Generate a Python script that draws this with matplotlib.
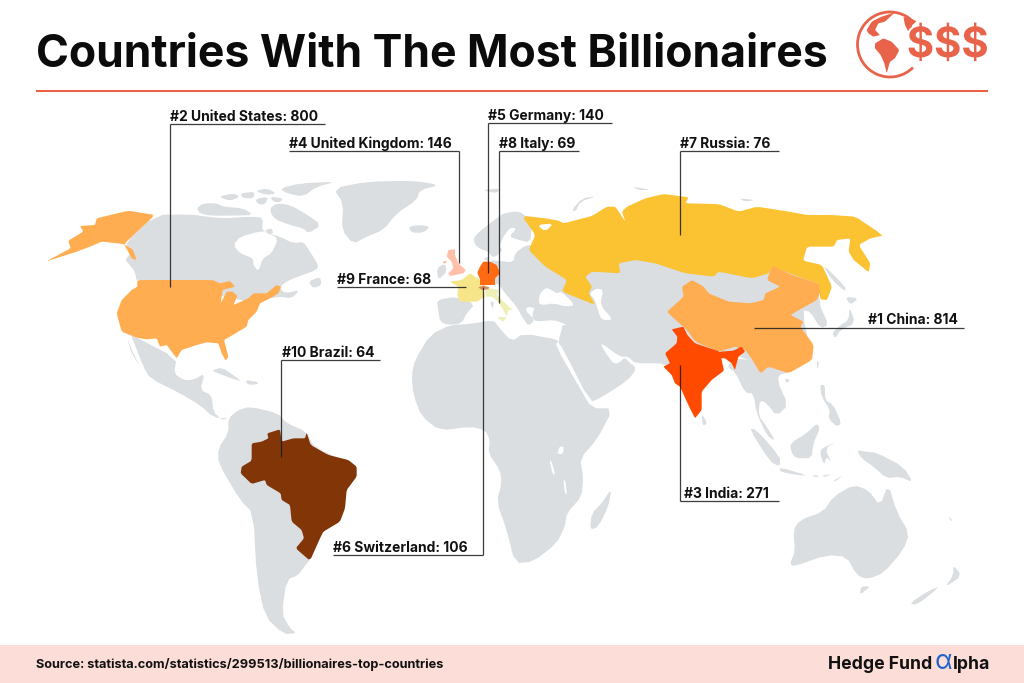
import matplotlib
matplotlib.use("Agg")
import matplotlib.pyplot as plt
import matplotlib.patheffects as pe
from matplotlib.patches import Polygon, Arc

# ---------- data ----------
ranks = [1, 2, 3, 4, 5, 6, 7, 8, 9, 10]
countries = ["China", "United States", "India", "United Kingdom", "Germany",
             "Switzerland", "Russia", "Italy", "France", "Brazil"]
billionaires = [814, 800, 271, 146, 140, 106, 76, 69, 68, 64]
title = "Countries With The Most Billionaires"
source = "Source: statista.com/statistics/299513/billionaires-top-countries"

# label anchors: text x, underline y, underline x0, x1, leader end (x, y)
label_x = [867.7, 170, 684, 289, 488, 333, 680, 499, 337, 282]
rule_y = [327.7, 124.3, 501, 151, 123, 555, 151, 151, 287, 360]
rule_x0 = [753.7, 170, 680, 289, 488, 333, 680, 499, 337, 281]
rule_x1 = [963.7, 325, 779, 459, 612, 483, 779, 579, 465.7, 380]
leader_x = [None, 170, 680, 459, 488, 483, 680, 499, None, 281]
leader_y = [None, 286.7, 365, 263, 272.7, 286.7, 235, 303, None, 456.7]

GREY = "#DADEE1"
INK = "#1A1A1A"
ORANGE = "#E8634A"
colors = {"China": "#FFAD50", "United States": "#FFAD50", "India": "#FF4A00",
          "United Kingdom": "#FFBFA8", "Germany": "#FF6A13", "Switzerland": "#D98E60",
          "Russia": "#FBC232", "Italy": "#EEF0B5", "France": "#F7E58A", "Brazil": "#823506"}

# ---------- traced outlines (each list: local trace units, with its own origin) ----------
O1, O2, O3, O4, O5 = (0, 90), (512, 90), (150, 330), (620, 330), (420, 230)
OA, OB, OC = (190, 175), (460, 205), (600, 300)

usa = [(412,570),(638,570),(660,580),(690,573),(705,590),(668,600),(662,640),(680,605),(698,605),(712,618),(700,645),(745,625),(760,610),(800,610),(830,585),(843,590),(835,610),(810,625),(780,640),(770,665),(745,690),(740,710),(690,740),(672,750),(685,800),(677,812),(665,790),(655,760),(620,757),(590,765),(545,780),(530,805),(515,785),(500,765),(480,770),(470,745),(440,748),(410,743),(365,725),(350,670),(365,630),(395,600),(412,590)]
alaska = [(465,375),(385,362),(290,385),(285,405),(240,408),(250,425),(205,452),(212,475),(137,515),(230,485),(270,470),(305,455),(370,462),(398,478),(410,510),(395,505),(372,462)]
canada = [(-105,120),(0,118),(50,125),(100,130),(180,125),(220,128),(215,170),(270,185),(310,205),(340,200),(360,230),(385,270),(380,285),(310,310),(280,325),(270,340),(285,355),(330,345),(305,370),(270,365),(240,370),(150,380),(0,330),(-160,320),(-165,290),(-185,265),(-195,255),(-170,225),(-198,207)]
hudson = [(130,210),(150,185),(215,168),(235,175),(265,190),(245,235),(218,250),(205,290),(190,270),(190,250),(150,235)]
gulf_lawrence = [(280,335),(375,295),(350,322),(310,320),(292,348)]
newfoundland = [(355,320),(390,305),(395,330),(370,340)]
arctic = [
    [(20,100),(40,85),(80,85),(100,95),(160,100),(190,120),(130,122),(60,122),(30,115)],
    [(85,65),(130,55),(150,65),(120,78)],
    [(150,55),(195,50),(190,70),(160,70)],
    [(195,72),(235,65),(225,88),(205,88)],
    [(240,65),(280,70),(270,82),(250,80)],
    [(240,100),(260,85),(300,90),(345,115),(395,150),(355,175),(340,160),(300,150),(260,135),(245,120)],
    [(270,40),(330,25),(440,20),(380,35),(340,65),(290,55)],
    [(195,48),(230,40),(260,55),(230,60)],
    [(225,165),(245,160),(250,175),(235,178)],
]
greenland = [(1320,285),(1240,272),(1100,275),(1000,295),(1030,340),(1025,420),(1060,462),(1100,440),(1150,420),(1190,370),(1250,330),(1260,300)]
iceland = [(1225,410),(1260,405),(1290,410),(1270,428),(1235,428)]
svalbard = [(1445,300),(1500,295),(1490,310)]
mexico = [(-55,15),(80,85),(72,130),(100,150),(130,150),(165,130),(150,180),(185,195),(190,245),(215,270),(235,265),(190,262),(150,225),(90,190),(0,145),(-20,110),(-55,20)]
caribbean = [
    [(-70,20),(-50,70),(-30,110),(-55,70)],
    [(185,122),(215,112),(250,135),(275,155),(245,145),(205,130)],
    [(285,150),(320,155),(325,162),(295,165)],
]
south_america = [(235,265),(265,240),(300,230),(385,250),(410,280),(470,305),(490,350),(600,400),(500,620),(510,620),(480,690),(470,700),(445,735),(410,750),(395,850),(420,895),(440,910),(400,912),(345,860),(320,740),(310,550),(270,510),(205,400),(205,355),(235,310)]
brazil = [(305,340),(335,335),(355,325),(352,310),(390,298),(395,335),(430,325),(465,325),(470,308),(482,345),(535,375),(595,390),(620,410),(620,440),(590,480),(585,535),(570,575),(520,605),(510,625),(480,692),(437,655),(462,625),(455,600),(425,575),(420,525),(395,510),(392,490),(350,465),(345,450),(305,462),(272,430),(275,410),(305,392)]
africa = [(785,135),(790,195),(815,260),(870,302),(960,290),(1005,300),(1020,330),(1015,370),(1050,420),(1055,460),(1040,515),(1070,600),(1095,700),(1150,695),(1220,640),(1245,590),(1250,550),(1295,500),(1300,440),(1290,385),(1340,330),(1390,235),(1325,235),(1290,175),(1215,45),(1230,30),(1120,10),(1085,35),(1045,-10),(1030,-30),(960,-18),(900,-15),(840,15),(795,90)]
madagascar = [(1385,475),(1375,530),(1345,590),(1320,600),(1325,550),(1355,520)]
african_lakes = [
    [(1222,372),(1228,350),(1242,350),(1238,372)],
    [(1198,390),(1205,395),(1216,435),(1208,432)],
    [(1240,450),(1246,452),(1251,495),(1245,490)],
]
asia = [(20,480),(50,470),(300,430),(900,500),(925,640),(925,650),(950,705),(925,715),(895,665),(870,660),(900,810),(800,860),(760,850),(700,800),(620,800),(500,830),(454,825),(449,820),(369,820),(349,800),(324,800),(269,760),(155,700),(125,690),(70,695),(60,680),(70,640),(150,600)]
europe_east = [(90,165),(120,168),(160,172),(165,145),(195,122),(215,120),(300,200),(350,280),(300,300),(240,300),(235,295),(225,310),(205,305),(195,315),(225,345),(205,362),(192,345),(170,305),(135,265),(115,235),(105,240),(85,200)]
scandinavia = [(40,100),(60,78),(110,40),(130,25),(175,18),(200,35),(215,70),(210,113),(170,103),(148,95),(170,70),(150,68),(130,95),(118,125),(128,135),(108,155),(95,155),(85,140),(60,132),(45,118)]
arabia = [(-108,60),(5,130),(5,140),(25,170),(40,190),(55,190),(75,172),(85,185),(110,205),(85,240),(0,295),(-30,306),(-114,141),(-126,129)]
russia = [(40,378),(100,385),(140,392),(155,400),(240,378),(285,350),(310,350),(340,395),(330,365),(345,350),(400,325),(455,312),(530,322),(520,340),(620,342),(680,365),(735,350),(830,365),(885,375),(960,375),(1030,380),(1090,420),(1112,437),(1075,445),(1040,465),(1075,520),(1070,547),(1025,510),(1010,485),(1015,445),(975,450),(965,470),(885,470),(873,512),(930,525),(960,590),(945,630),(925,628),(920,580),(860,560),(780,530),(770,550),(720,565),(620,545),(605,560),(520,550),(430,520),(370,510),(320,520),(325,550),(240,545),(220,560),(240,590),(230,610),(250,645),(150,605),(165,570),(100,530),(50,480),(70,435),(35,385)]
white_sea = [(75,405),(125,400),(100,425)]
black_sea = [(235,295),(240,265),(258,248),(275,255),(290,265),(305,260),(345,300),(320,305),(280,295),(250,300)]
caspian = [(388,265),(410,250),(430,255),(420,300),(460,345),(425,345),(415,320),(405,285)]
china = [(540,570),(575,590),(590,610),(650,635),(715,640),(755,630),(760,610),(805,590),(765,570),(780,527),(840,555),(920,580),(925,605),(915,630),(870,655),(835,675),(875,695),(865,710),(905,765),(900,810),(830,850),(770,830),(745,850),(715,800),(700,780),(670,770),(620,785),(550,755),(525,720),(480,680),(465,665),(515,620),(510,590)]
north_pacific = [
    [(930,520),(1000,590),(1000,605),(960,570)],
    [(1000,620),(1040,625),(1015,645)],
    [(1012,650),(1030,700),(985,720),(970,745),(960,730),(985,705),(1010,690)],
    [(180,360),(210,325),(255,318),(205,335),(190,365)],
    [(360,290),(420,300),(380,300)],
    [(680,325),(730,330),(700,335)],
]
india = [(155,-2),(190,-10),(202,15),(225,40),(300,65),(305,90),(312,122),(275,150),(245,185),(245,240),(225,265),(205,225),(180,170),(165,160),(155,135),(130,110),(150,100),(135,70),(170,40),(172,20)]
india_ne = [(300,65),(340,62),(365,50),(375,65),(355,80),(345,120),(335,100),(315,85),(300,85)]
se_asia = [(350,80),(490,120),(470,150),(505,225),(470,258),(440,220),(420,210),(415,255),(440,290),(467,335),(440,315),(410,250),(400,190),(375,188),(345,125),(320,110)]
oceania = [
    [(245,250),(262,280),(248,288)],
    [(495,145),(510,150),(500,160)],
    [(590,95),(598,95),(592,120)],
    [(600,165),(615,165),(615,210),(640,225),(665,280),(650,290),(625,265),(630,240),(605,200)],
    [(387,295),(410,300),(480,380),(480,410),(450,395)],
    [(480,412),(565,437),(530,435),(480,425)],
    [(510,340),(560,310),(590,280),(600,295),(580,340),(575,385),(530,385),(515,370)],
    [(605,355),(650,335),(615,355),(635,400),(620,380),(612,405),(600,370)],
    [(710,360),(735,365),(770,368),(850,410),(880,458),(840,440),(800,445),(760,410),(725,385)],
    [(575,435),(600,438),(585,442)],
    [(640,452),(670,435),(645,455)],
    [(605,437),(635,432),(615,441)],
    [(510,700),(525,665),(520,600),(540,570),(610,545),(640,500),(700,465),(745,480),(780,528),(805,462),(830,545),(868,610),(850,660),(790,730),(740,748),(710,735),(680,680),(620,675),(520,710)],
    [(722,770),(752,768),(720,795)],
    [(1000,705),(1025,738),(975,772),(1000,735)],
    [(960,770),(890,825),(868,820),(930,780)],
    [(985,558),(1000,575),(990,570)],
]
europe_small = [
    [(50,115),(75,100),(80,125),(55,150)],
    [(50,210),(110,200),(165,222),(140,250),(125,280),(85,285),(60,275),(55,240)],
    [(190,85),(205,80),(205,95)],
    [(210,215),(222,215),(218,238)],
    [(232,262),(258,262),(250,275)],
]
uk = [(85,60),(105,58),(105,75),(115,100),(137,120),(130,130),(90,138),(85,130),(100,115),(95,95),(80,80)]
n_ireland = [(68,95),(80,92),(78,100),(70,100)]
france = [(150,130),(180,150),(185,168),(190,180),(195,200),(170,215),(120,215),(112,195),(115,170),(90,155),(125,150)]
germany = [(190,95),(210,95),(230,105),(240,130),(225,145),(225,165),(180,165),(180,148),(172,128),(180,110)]
switzerland = [(175,172),(190,166),(208,172),(205,178),(185,180)]
italy = [(195,180),(212,175),(235,180),(232,195),(250,215),(278,240),(265,240),(260,260),(255,250),(235,215),(215,200),(198,200)]
sicily = [(232,262),(258,262),(250,275)]

# logo traces
logo_north = [(80,75),(95,50),(125,35),(165,22),(135,50),(115,55),(105,75),(120,90),(100,95),(85,85)]
logo_south = [(105,115),(130,100),(155,110),(178,135),(165,160),(150,170),(140,205),(133,175),(122,150),(105,130)]
logo_east = [(190,35),(230,48),(215,62),(220,75),(205,80),(195,60)]
O6 = (840, 5)

# ---------- drawing ----------
plt.rcParams["font.family"] = ["Inter", "DejaVu Sans"]
fig = plt.figure(figsize=(10.24, 6.83), dpi=100)
ax = fig.add_axes([0, 0, 1, 1])
ax.set_xlim(0, 1024)
ax.set_ylim(683, 0)
ax.axis("off")


def soften(xy, cut):
    """One pass of corner cutting, so traced outlines lose their straight facets."""
    out = []
    n = len(xy)
    for i in range(n):
        (x0, y0), (x1, y1) = xy[i], xy[(i + 1) % n]
        out.append((x0 + cut * (x1 - x0), y0 + cut * (y1 - y0)))
        out.append((x1 - cut * (x1 - x0), y1 - cut * (y1 - y0)))
    return out


def shape(points, origin, color, z, cut=0.22):
    xy = [(origin[0] + x / 3, origin[1] + y / 3) for x, y in points]
    ax.add_patch(Polygon(soften(xy, cut), closed=True, fc=color, ec="none", zorder=z))


for pts, org in [(canada, OA), (newfoundland, OA), (greenland, O1), (iceland, O1), (svalbard, O1),
                 (asia, O2), (europe_east, OB), (scandinavia, OB), (arabia, OC),
                 (africa, O3), (madagascar, O3), (south_america, O3), (mexico, O3), (se_asia, O4)]:
    shape(pts, org, GREY, 1)
for group, org in [(caribbean, O3), (north_pacific, O2), (oceania, O4), (europe_small, O5)]:
    for pts in group:
        shape(pts, org, GREY, 1)
shape(hudson, OA, "white", 2)
shape(gulf_lawrence, OA, "white", 2)
for pts in arctic:
    shape(pts, OA, GREY, 2)
for pts in african_lakes:
    shape(pts, O3, "white", 2)

shape(russia, O2, colors["Russia"], 3, cut=0.1)
shape(china, O2, colors["China"], 4, cut=0.1)
shape(usa, O1, colors["United States"], 3, cut=0.08)
shape(alaska, O1, colors["United States"], 3, cut=0.08)
shape(india, O4, colors["India"], 5, cut=0.08)
shape(india_ne, O4, colors["India"], 5, cut=0.08)
shape(brazil, O3, colors["Brazil"], 3, cut=0.1)
shape(uk, O5, colors["United Kingdom"], 3, cut=0.05)
shape(n_ireland, O5, colors["United Kingdom"], 3, cut=0.05)
shape(france, O5, colors["France"], 3, cut=0.05)
shape(italy, O5, colors["Italy"], 3, cut=0.05)
shape(sicily, O5, colors["Italy"], 3, cut=0.05)
shape(germany, O5, colors["Germany"], 4, cut=0.05)
shape(switzerland, O5, colors["Switzerland"], 5, cut=0.05)
shape(white_sea, O2, "white", 6)
shape(black_sea, OB, "white", 6)
shape(caspian, OB, "white", 6)

# leaders and labels
for i, name in enumerate(countries):
    ax.plot([rule_x0[i], rule_x1[i]], [rule_y[i], rule_y[i]], color=INK, lw=0.9, alpha=.85,
            solid_capstyle="butt", zorder=8)
    if leader_x[i] is not None:
        ax.plot([leader_x[i], leader_x[i]], [rule_y[i], leader_y[i]], color=INK, lw=0.9, alpha=.85,
                solid_capstyle="butt", zorder=8)
    ax.text(label_x[i], rule_y[i] - 3.2, f"#{ranks[i]} {name}: {billionaires[i]}", fontsize=10,
            fontweight="bold", color="#111111", ha="left", va="baseline", zorder=9)

# header
ax.text(36, 67, title, fontsize=32.1, fontweight="bold", color="#0B0B0B", ha="left", va="baseline")
ax.plot([36, 988], [90.7, 90.7], color=ORANGE, lw=1.5, solid_capstyle="butt")

# logo
ax.add_patch(Arc((890, 44.5), 65, 65, theta1=45, theta2=318, ec=ORANGE, lw=2.0, zorder=3))
for pts in (logo_north, logo_south, logo_east):
    shape(pts, O6, ORANGE, 3, cut=0.1)
ax.text(947.5, 57, "$$$", fontsize=30, fontweight="bold", color=ORANGE, ha="center", va="baseline",
        zorder=4, path_effects=[pe.withStroke(linewidth=3, foreground="white")])

# footer
ax.axhspan(645, 683, color="#FDDDD8", lw=0, zorder=0)
ax.text(36, 668, source, fontsize=9.2, fontweight="bold", color="#111111", ha="left", va="baseline")
ax.text(828, 669, "Hedge Fund", fontsize=12.7, fontweight="bold", color="#111111", ha="left", va="baseline")
ax.text(934.5, 669, "α", fontsize=19, color="#1F63CC", ha="left", va="baseline")
ax.text(952.5, 669, "lpha", fontsize=12.7, fontweight="bold", color="#111111", ha="left", va="baseline")

fig.savefig("out.png", dpi=100)
